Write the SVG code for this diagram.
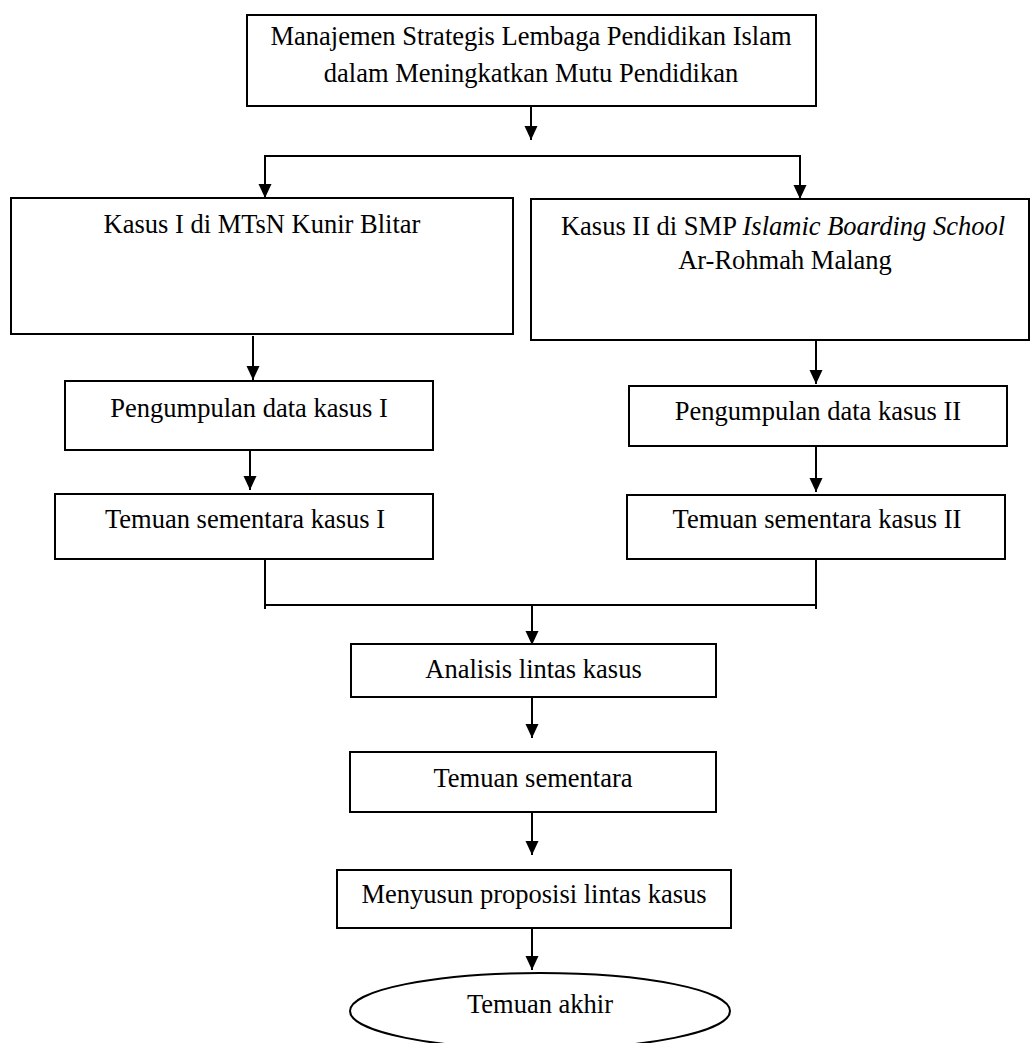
<svg xmlns="http://www.w3.org/2000/svg" width="1031" height="1043" viewBox="0 0 1031 1043">
<style>
  .box { fill: #fff; stroke: #000; stroke-width: 2; }
  .t { font-family: "Liberation Serif", "Times New Roman", serif; font-size: 26.5px; fill: #000; text-anchor: middle; }
  .c { fill: none; stroke: #000; stroke-width: 2; }
  .a { marker-end: url(#ah); }
</style>
<defs>
  <marker id="ah" markerUnits="userSpaceOnUse" markerWidth="14" markerHeight="14" viewBox="0 0 14 14" refX="14" refY="7" orient="auto">
    <path d="M0,0.5 L14,7 L0,13.5 z" fill="#000"/>
  </marker>
</defs>
<rect width="1031" height="1043" fill="#fff"/>

<g id="connectors">
  <line class="c a" x1="531" y1="106" x2="531" y2="140"/>
  <polyline class="c" points="265,198 265,156 800,156 800,198"/>
  <line class="c a" x1="265" y1="156" x2="265" y2="198"/>
  <line class="c a" x1="800" y1="156" x2="800" y2="199"/>
  <line class="c a" x1="253" y1="336" x2="253" y2="380"/>
  <line class="c a" x1="250" y1="450" x2="250" y2="490"/>
  <line class="c a" x1="816" y1="341" x2="816" y2="384"/>
  <line class="c a" x1="816" y1="446" x2="816" y2="492"/>
  <polyline class="c" points="265,555 265,609"/>
  <polyline class="c" points="816,555 816,609"/>
  <line class="c" x1="265" y1="605" x2="816" y2="605"/>
  <line class="c a" x1="532" y1="605" x2="532" y2="645"/>
  <line class="c a" x1="532" y1="697" x2="532" y2="738"/>
  <line class="c a" x1="532" y1="812" x2="532" y2="855"/>
  <line class="c a" x1="532" y1="928" x2="532" y2="970"/>
</g>

<g id="node-top">
  <rect class="box" x="247" y="15" width="569" height="91"/>
  <text class="t" x="531" y="45">Manajemen Strategis Lembaga Pendidikan Islam</text>
  <text class="t" x="531" y="82">dalam Meningkatkan Mutu Pendidikan</text>
</g>

<g id="node-kasus1">
  <rect class="box" x="11" y="198" width="502" height="136"/>
  <text class="t" x="262" y="233">Kasus I di MTsN Kunir Blitar</text>
</g>

<g id="node-kasus2">
  <rect class="box" x="531" y="199" width="498" height="141"/>
  <text class="t" x="783" y="235">Kasus II di SMP <tspan font-style="italic">Islamic Boarding School</tspan></text>
  <text class="t" x="785" y="269">Ar-Rohmah Malang</text>
</g>

<g id="node-pengumpulan1">
  <rect class="box" x="65" y="381" width="368" height="69"/>
  <text class="t" x="249" y="417">Pengumpulan data kasus I</text>
</g>

<g id="node-pengumpulan2">
  <rect class="box" x="629" y="386" width="378" height="60"/>
  <text class="t" x="818" y="420">Pengumpulan data kasus II</text>
</g>

<g id="node-temuan1">
  <rect class="box" x="55" y="494" width="378" height="65"/>
  <text class="t" x="245" y="528">Temuan sementara kasus I</text>
</g>

<g id="node-temuan2">
  <rect class="box" x="627" y="495" width="378" height="64"/>
  <text class="t" x="817" y="528">Temuan sementara kasus II</text>
</g>

<g id="node-analisis">
  <rect class="box" x="351" y="644" width="365" height="53"/>
  <text class="t" x="533.5" y="678">Analisis lintas kasus</text>
</g>

<g id="node-temuan-sementara">
  <rect class="box" x="350" y="752" width="366" height="60"/>
  <text class="t" x="533" y="787">Temuan sementara</text>
</g>

<g id="node-menyusun">
  <rect class="box" x="337" y="870" width="394" height="58"/>
  <text class="t" x="534" y="903">Menyusun proposisi lintas kasus</text>
</g>

<g id="node-akhir">
  <ellipse class="box" cx="540" cy="1011" rx="190" ry="38"/>
  <text class="t" x="540" y="1013">Temuan akhir</text>
</g>
</svg>
